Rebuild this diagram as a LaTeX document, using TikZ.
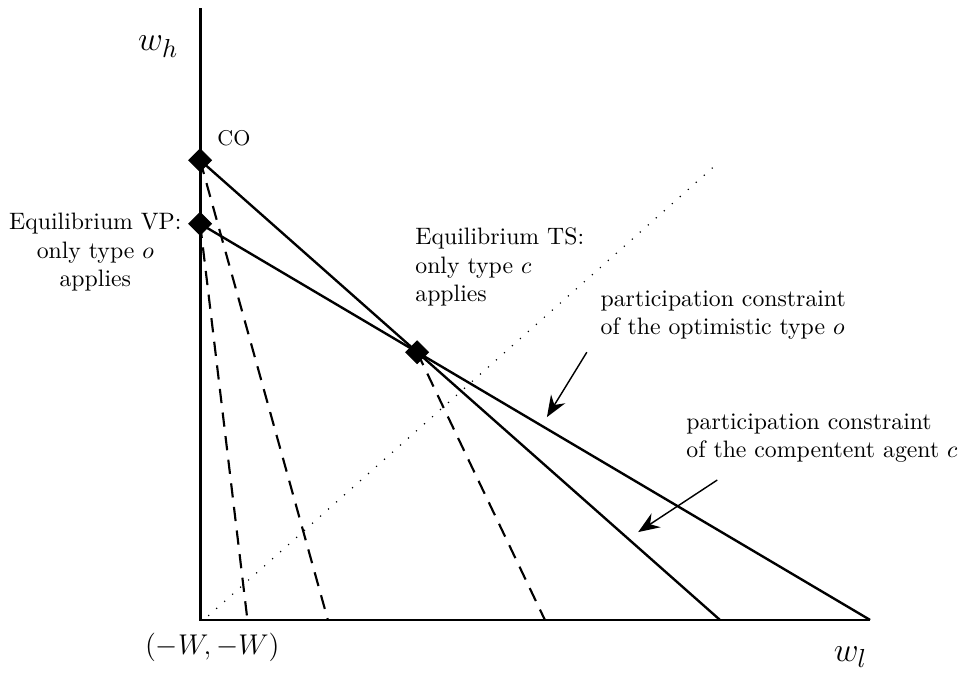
\documentclass[tikz,border=0pt]{standalone}
\usepackage{amsmath}
\usepackage{tikz}
\usetikzlibrary{calc, shapes.geometric, arrows.meta, positioning}

\begin{document}
\begin{tikzpicture}[
        axis/.style = {line width=1.2pt},
        pconstr/.style = {line width=1pt},
        isoline/.style = {line width=0.9pt, dash pattern=on 6pt off 4pt},
        diag/.style = {line width=0.5pt, loosely dotted},
        eqpoint/.style = {draw, fill=black, diamond, minimum size=0.34cm, inner sep=0pt},
        note/.style = {align=left, font=\normalsize},
        axlabel/.style = {font=\fontsize{15.8}{18}\selectfont},
        pointer/.style = {-{Stealth[length=9pt, width=7pt, inset=3pt]}, line width=0.6pt}
    ]
        \useasboundingbox (-2.96,-0.81) rectangle (11.24,9.17);

        % Axes
        \coordinate (origin) at (0,0);
        \coordinate (ytop) at (0,9.05);
        \coordinate (xend) at (9.91,0);
        \draw [axis] (ytop) -- (origin) -- (xend);
        \node (wh) [axlabel] at (-0.62,8.48) {$w_h$};
        \node (wl) [axlabel] at (9.62,-0.55) {$w_l$};
        \node (corner) [font=\large] at (0.18,-0.41) {$(-W,-W)$};

        % Points on the axes
        \coordinate (coPt) at (0,6.80);
        \coordinate (vpPt) at (0,5.86);
        \coordinate (tsPt) at (3.21,3.96);
        \coordinate (coEnd) at (7.69,0);
        \coordinate (vpEnd) at (9.91,0);

        % Diagonal
        \coordinate (dA) at (0.12,0.06);
        \coordinate (dB) at (7.65,6.75);
        \draw [diag] (dA) -- (dB);

        % Participation constraints
        \draw [pconstr] (coPt) -- (coEnd);
        \draw [pconstr] (vpPt) -- (vpEnd);

        % Dashed lines
        \coordinate (dashA) at (0.70,0);
        \coordinate (dashB) at (1.89,0);
        \coordinate (dashC) at (5.10,0);
        \draw [isoline] (vpPt) -- (dashA);
        \draw [isoline] (coPt) -- (dashB);
        \draw [isoline] (tsPt) -- (dashC);

        % Equilibria
        \node (co) [eqpoint] at (coPt) {};
        \node (vp) [eqpoint] at (vpPt) {};
        \node (ts) [eqpoint] at (tsPt) {};
        \node (coLabel) [font=\small] at (0.50,7.12) {CO};
        \node (vpLabel) [align=center] at (-1.55,5.44) {Equilibrium VP:\\only type $o$\\applies};
        \node (tsLabel) [note, anchor=west] at (3.06,5.22) {Equilibrium TS:\\only type $c$\\applies};

        % Annotations
        \node (optLabel) [note, anchor=west] at (5.80,4.51) {participation constraint\\of the optimistic type $o$};
        \node (compLabel) [note, anchor=west] at (7.07,2.69) {participation constraint\\of the compentent agent $c$};
        \coordinate (optFrom) at (5.72,3.96);
        \coordinate (optTo) at (5.13,3.00);
        \coordinate (compFrom) at (7.65,2.07);
        \coordinate (compTo) at (6.48,1.30);
        \draw [pointer] (optFrom) -- (optTo);
        \draw [pointer] (compFrom) -- (compTo);

    \end{tikzpicture}
\end{document}
